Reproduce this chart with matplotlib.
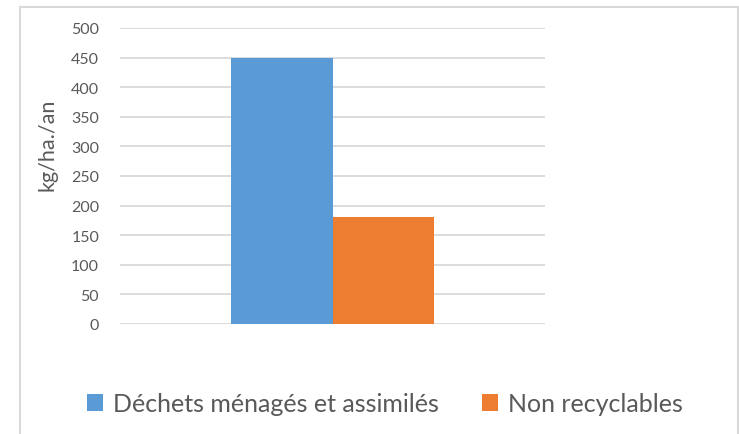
import matplotlib
matplotlib.use('Agg')
import matplotlib.pyplot as plt
from matplotlib.patches import Rectangle, Patch

plt.rcParams['font.family'] = ['Lato', 'DejaVu Sans']

# Data
series = ['Déchets ménagés et assimilés', 'Non recyclables']
values = [450, 180]
colors = ['#5b9bd5', '#ed7d31']
yticks = [0, 50, 100, 150, 200, 250, 300, 350, 400, 450, 500]

fig = plt.figure(figsize=(7.39, 4.35), dpi=100)
ax = fig.add_axes([120 / 739, 110 / 435, 425 / 739, 296 / 435])

# Excel-like chart border
fig.patches.append(Rectangle((20 / 739, -0.1), 718 / 739, 1.1 - 8 / 435,
                             transform=fig.transFigure, fill=False,
                             edgecolor='#d9d9d9', linewidth=1.5))

bar_w = 0.238
offsets = [-bar_w, 0]
for s, v, c, off in zip(series, values, colors, offsets):
    ax.bar(off, v, width=bar_w, align='edge', color=c, zorder=3)

ax.set_xlim(-0.5, 0.5)
ax.set_ylim(0, 500)
ax.set_yticks(yticks)
ax.set_xticks([])
ax.yaxis.grid(True, color='#d9d9d9', linewidth=1.3, zorder=0)
for sp in ax.spines.values():
    sp.set_visible(False)
ax.tick_params(axis='y', length=0, pad=15, labelsize=11.5, labelcolor='#595959')
ax.set_ylabel('kg/ha./an', fontsize=15.5, color='#595959')
ax.yaxis.set_label_coords(-0.146, 0.61)

handles = [Patch(facecolor=c, label=s) for s, c in zip(series, colors)]
fig.legend(handles=handles, loc='center', bbox_to_anchor=(385 / 739, 30 / 435),
           ncol=2, frameon=False, fontsize=18, handlelength=0.65, handleheight=0.65,
           handletextpad=0.4, columnspacing=1.7, labelcolor='#595959')

fig.savefig('out.png', dpi=100)
